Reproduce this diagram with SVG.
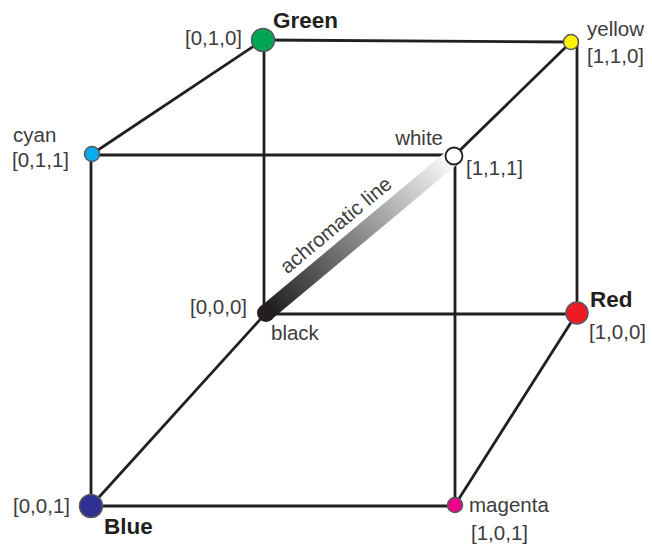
<svg xmlns="http://www.w3.org/2000/svg" width="652" height="548" viewBox="0 0 652 548">
<style>
.edge{stroke:#231f20;stroke-width:2.8;fill:none}
.node{stroke:#58595b;stroke-width:1.5}
.lbl{font-family:"Liberation Sans",Arial,sans-serif;font-size:20.5px;fill:#3c3c3c}
.bold{font-family:"Liberation Sans",Arial,sans-serif;font-size:22.5px;font-weight:bold;fill:#231f20}
</style>
<defs>
<linearGradient id="ach" gradientUnits="userSpaceOnUse" x1="266" y1="313" x2="454" y2="156">
<stop offset="0" stop-color="#1a1a1a"/>
<stop offset="0.5" stop-color="#8a8c8e"/>
<stop offset="1" stop-color="#ffffff"/>
</linearGradient>
</defs>
<rect width="652" height="548" fill="#ffffff"/>
<g id="connectors">
<line class="edge" x1="263" y1="40" x2="571" y2="42"/>
<line class="edge" x1="263" y1="40" x2="92" y2="154"/>
<line class="edge" x1="264" y1="40" x2="264" y2="313"/>
<line class="edge" x1="571" y1="42" x2="454" y2="156"/>
<line class="edge" x1="577" y1="42" x2="577" y2="313"/>
<line class="edge" x1="92" y1="155" x2="454" y2="155"/>
<line class="edge" x1="91" y1="154" x2="91" y2="506"/>
<line class="edge" x1="455" y1="156" x2="455" y2="505"/>
<line class="edge" x1="266" y1="314" x2="577" y2="314"/>
<line class="edge" x1="266" y1="313" x2="91" y2="506"/>
<line class="edge" x1="577" y1="313" x2="455" y2="505"/>
<line class="edge" x1="91" y1="506" x2="455" y2="506"/>
</g>
<g id="achromatic">
<line x1="266" y1="313" x2="454" y2="156" stroke="url(#ach)" stroke-width="17"/>
<text class="lbl" transform="translate(266,313) rotate(-39.8)" x="41" y="-16">achromatic line</text>
</g>
<g id="black">
<circle cx="266" cy="313" r="9" fill="#231f20"/>
<text class="lbl" x="247" y="314" text-anchor="end">[0,0,0]</text>
<text class="lbl" x="271" y="340">black</text>
</g>
<g id="green">
<circle class="node" cx="263" cy="40" r="11.5" fill="#00a651"/>
<text class="lbl" x="242" y="45" text-anchor="end">[0,1,0]</text>
<text class="bold" x="273" y="28">Green</text>
</g>
<g id="yellow">
<circle class="node" cx="571" cy="42" r="7.5" fill="#fff200"/>
<text class="lbl" x="587" y="36">yellow</text>
<text class="lbl" x="587" y="63">[1,1,0]</text>
</g>
<g id="cyan">
<circle class="node" cx="92" cy="154" r="7.5" fill="#00aeef"/>
<text class="lbl" x="13" y="142">cyan</text>
<text class="lbl" x="12" y="167">[0,1,1]</text>
</g>
<g id="white">
<circle cx="454" cy="156" r="8.5" fill="#ffffff" stroke="#231f20" stroke-width="1.8"/>
<text class="lbl" x="443" y="145" text-anchor="end">white</text>
<text class="lbl" x="466" y="175">[1,1,1]</text>
</g>
<g id="red">
<circle class="node" cx="577" cy="313" r="11" fill="#ed1c24" stroke="#231f20"/>
<text class="bold" x="590" y="307">Red</text>
<text class="lbl" x="589" y="339">[1,0,0]</text>
</g>
<g id="blue">
<circle class="node" cx="91" cy="506" r="11.5" fill="#2e3192"/>
<text class="lbl" x="70" y="513" text-anchor="end">[0,0,1]</text>
<text class="bold" x="104" y="534">Blue</text>
</g>
<g id="magenta">
<circle class="node" cx="455" cy="505" r="7.5" fill="#ec008c"/>
<text class="lbl" x="469" y="512">magenta</text>
<text class="lbl" x="471" y="540">[1,0,1]</text>
</g>
</svg>
